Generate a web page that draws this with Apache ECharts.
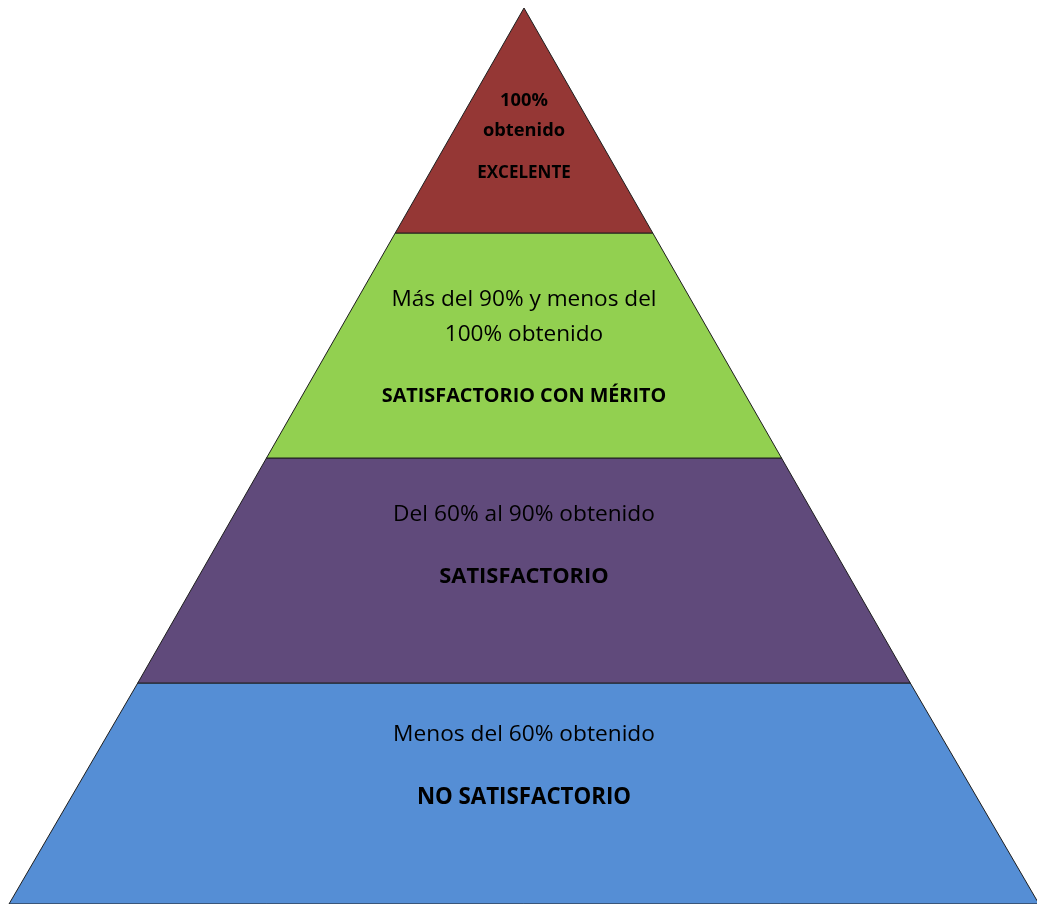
<!DOCTYPE html>
<html>
<head>
<meta charset="utf-8">
<script src="https://cdn.jsdelivr.net/npm/echarts@6/dist/echarts.min.js"></script>
<style>
html,body{margin:0;padding:0;background:#fff;}
#chart{width:1037px;height:904px;}
</style>
</head>
<body>
<div id="chart"></div>
<script>
// Levels from bottom (widest) to top (apex)
const names = ['NO SATISFACTORIO', 'SATISFACTORIO', 'SATISFACTORIO CON MÉRITO', 'EXCELENTE'];
const levelWidths = [4, 3, 2, 1];  // relative width of each layer's bottom edge
const descriptions = ['Menos del 60% obtenido', 'Del 60% al 90% obtenido', 'Más del 90% y menos del\n100% obtenido', '100%\nobtenido'];
const colors = ['#558ED5', '#604A7B', '#92D050', '#953735'];

const fontFam = '"Open Sans", Lato, sans-serif';

function descLines(i) {
  return descriptions[i].split('\n').map(s => '{n|' + s + '}').join('\n');
}

const layerHeights = [221, 225, 225, 225]; // pixel height of each layer (style)

const labelCfg = [
  { // blue
    padding: [0, 0, 55, 0],
    rich: {
      n: { fontSize: 22.7, lineHeight: 63, fontFamily: fontFam, color: '#000' },
      b: { fontSize: 22.3, fontWeight: 'bold', lineHeight: 63, fontFamily: fontFam, color: '#000' }
    }
  },
  { // purple
    padding: [0, 0, 50, 0],
    rich: {
      n: { fontSize: 22.7, lineHeight: 62, fontFamily: fontFam, color: '#000' },
      b: { fontSize: 21.9, fontWeight: 'bold', lineHeight: 62, fontFamily: fontFam, color: '#000' }
    }
  },
  { // green
    padding: [31, 0, 0, 0],
    rich: {
      n: { fontSize: 22.6, lineHeight: 35, fontFamily: fontFam, color: '#000' },
      b: { fontSize: 19.8, fontWeight: 'bold', lineHeight: 87, fontFamily: fontFam, color: '#000' }
    }
  },
  { // red
    padding: [46, 0, 0, 0],
    rich: {
      n: { fontSize: 18.3, fontWeight: 'bold', lineHeight: 30, fontFamily: fontFam, color: '#000' },
      b: { fontSize: 17, fontWeight: 'bold', lineHeight: 56, fontFamily: fontFam, color: '#000' }
    }
  }
];

const data = names.map((nm, i) => ({
  name: nm,
  value: levelWidths[i],
  itemStyle: { color: colors[i], height: layerHeights[i] },
  label: Object.assign({
    show: true,
    position: 'inside',
    formatter: descLines(i) + '\n{b|' + nm + '}'
  }, labelCfg[i])
}));

const chart = echarts.init(document.getElementById('chart'), null, { renderer: 'canvas' });
chart.setOption({
  animation: false,
  backgroundColor: '#ffffff',
  series: [{
    type: 'funnel',
    sort: 'ascending',
    left: 9,
    top: 8,
    width: 1030,
    height: 896,
    min: 0,
    max: 4,
    minSize: '0%',
    maxSize: '100%',
    gap: 0,
    funnelAlign: 'center',
    itemStyle: { borderColor: '#1e1e1e', borderWidth: 1 },
    labelLine: { show: false },
    emphasis: { disabled: true },
    data: data
  }]
});
</script>
</body>
</html>
